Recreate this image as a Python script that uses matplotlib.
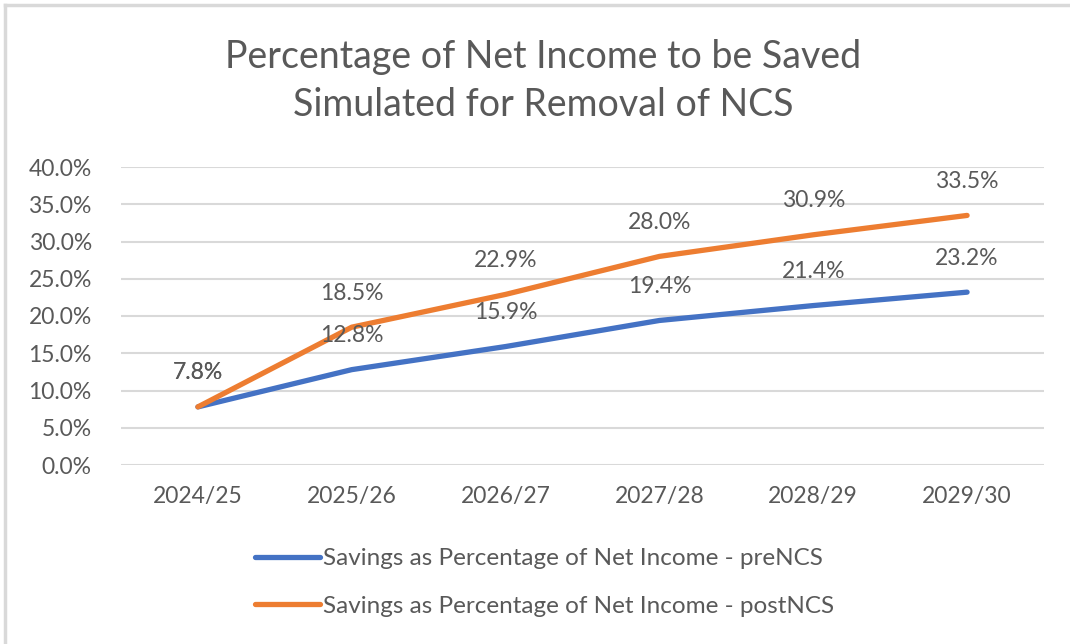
import matplotlib
matplotlib.use("Agg")
import matplotlib.pyplot as plt
from matplotlib.lines import Line2D

categories = ["2024/25", "2025/26", "2026/27", "2027/28", "2028/29", "2029/30"]
pre_ncs = [7.8, 12.8, 15.9, 19.4, 21.4, 23.2]
post_ncs = [7.8, 18.5, 22.9, 28.0, 30.9, 33.5]
yticks = [0, 5, 10, 15, 20, 25, 30, 35, 40]
series_names = ["Savings as Percentage of Net Income - preNCS",
                "Savings as Percentage of Net Income - postNCS"]
title = "Percentage of Net Income to be Saved\nSimulated for Removal of NCS"

plt.rcParams['font.family'] = ['Lato', 'DejaVu Sans']
TXT = "#595959"
BLUE = "#4472C4"
ORANGE = "#ED7D31"
GRID = "#D9D9D9"

W, H = 1070, 644
fig = plt.figure(figsize=(W / 100, H / 100), dpi=100)
ax = fig.add_axes([121 / W, 1 - 465 / H, (1044 - 121) / W, (465 - 167) / H])

x = list(range(len(categories)))
l1, = ax.plot(x, pre_ncs, color=BLUE, lw=3.8, solid_capstyle='round', solid_joinstyle='round', zorder=3)
l2, = ax.plot(x, post_ncs, color=ORANGE, lw=3.8, solid_capstyle='round', solid_joinstyle='round', zorder=4)

for xi, v in zip(x, pre_ncs):
    ax.annotate(f"{v:.1f}%", (xi, v), xytext=(0, 24.5), textcoords='offset points',
                ha='center', va='center', fontsize=16.5, color=TXT, zorder=5)
for xi, v in zip(x, post_ncs):
    ax.annotate(f"{v:.1f}%", (xi, v), xytext=(0, 24.5), textcoords='offset points',
                ha='center', va='center', fontsize=16.5, color=TXT, zorder=5)

ax.set_xlim(-0.5, len(categories) - 0.5)
ax.set_ylim(0, 40)
ax.set_yticks(yticks)
ax.set_yticklabels([f"{t:.1f}%" for t in yticks])
ax.set_xticks(x)
ax.set_xticklabels(categories)
ax.grid(axis='y', color=GRID, lw=1.5, zorder=0)
ax.set_axisbelow(True)
for s in ax.spines.values():
    s.set_visible(False)
ax.tick_params(axis='y', length=0, pad=21, labelsize=16.5, labelcolor=TXT)
ax.tick_params(axis='x', length=0, pad=15, labelsize=16.5, labelcolor=TXT)

fig.text(543 / W, 1 - 81 / H, title, ha='center', va='center', fontsize=27,
         color=TXT, linespacing=1.42)

leg = fig.legend([l1, l2], series_names, loc='center left',
                 bbox_to_anchor=(255 / W, 1 - 582.5 / H), frameon=False,
                 fontsize=17.5, handlelength=2.67, handletextpad=0.12,
                 labelspacing=1.09, borderpad=0, borderaxespad=0)
for t in leg.get_texts():
    t.set_color(TXT)

fig.add_artist(Line2D([5 / W, 1], [1 - 5 / H, 1 - 5 / H], color=GRID, lw=2.5, transform=fig.transFigure))
fig.add_artist(Line2D([5 / W, 5 / W], [0, 1 - 5 / H], color=GRID, lw=2.5, transform=fig.transFigure))

fig.savefig("out.png", dpi=100, facecolor='white')
